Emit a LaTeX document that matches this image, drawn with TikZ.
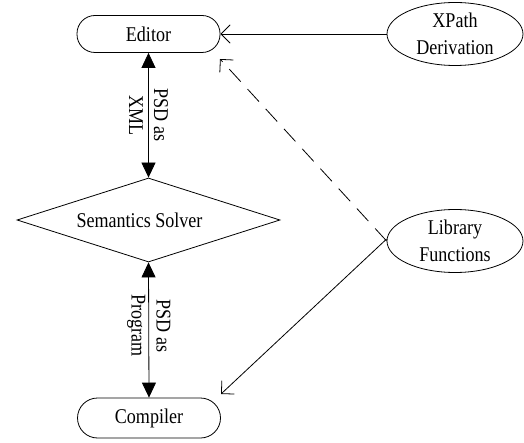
\documentclass[tikz,border=0pt]{standalone}
\usepackage{fontspec}
\setmainfont{Liberation Serif}[FakeStretch=0.86]
\usetikzlibrary{shapes.geometric,arrows.meta}
\begin{document}
\begin{tikzpicture}[x=1pt,y=-1pt,
  every node/.style={font=\fontsize{21}{27}\selectfont, inner sep=0pt, align=center},
  pill/.style={draw, line width=0.8pt, rounded corners=18pt, minimum width=143pt, minimum height=37pt},
  oval/.style={draw, line width=0.8pt, ellipse, minimum width=136pt, minimum height=63pt},
  solver/.style={draw, line width=0.8pt, diamond, aspect=3.13, minimum width=263pt, minimum height=84pt},
  openarrow/.style={line width=0.8pt, -{Straight Barb[angle=90:13pt, line width=0.8pt]}},
  bothways/.style={line width=0.8pt, {Triangle[length=15pt,width=14pt]}-{Triangle[length=15pt,width=14pt]}},
  vlabel/.style={rotate=-90, font=\fontsize{21}{25}\selectfont}
]
\useasboundingbox (0,0) rectangle (524,443);
\node[pill] (ed) at (148.5,34) {Editor};
\node[pill, minimum height=40pt, rounded corners=20pt] (comp) at (149,418) {Compiler};
\node[solver, align=none] (sol) at (148.5,220) {Semantics Solver\kern18pt};
\node[oval] (xp) at (455,34) {XPath\\Derivation};
\node[oval] (lib) at (455,241) {Library\\Functions};
\coordinate (dtip) at (220,59);
\coordinate (ctip) at (221,394);
\draw[bothways] (ed.south) -- node[vlabel]{PSD as\\XML} (sol.north);
\draw[bothways] (sol.south) -- node[vlabel, pos=0.47]{PSD as\\Program} (comp.north);
\draw[openarrow] (xp.west) -- (ed.east);
\draw[openarrow, dash pattern=on 17pt off 10pt] (lib.west) -- (dtip);
\draw[openarrow] ([yshift=2pt]lib.west) -- (ctip);
\end{tikzpicture}
\end{document}
